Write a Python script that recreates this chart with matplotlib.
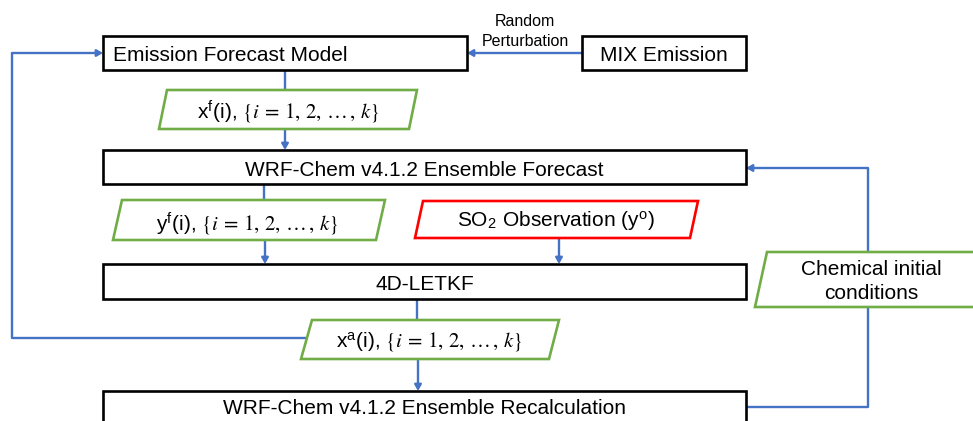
import matplotlib
matplotlib.use("Agg")
import matplotlib.pyplot as plt
from matplotlib.patches import Polygon, Rectangle

plt.rcParams['font.family'] = ['Liberation Sans', 'DejaVu Sans']
plt.rcParams['mathtext.fontset'] = 'stix'

BLUE = '#4472C4'
GREEN = '#70AD47'
RED = '#FF0000'

# labels of the flowchart
box_labels = ['Emission Forecast Model', 'MIX Emission',
              'WRF-Chem v4.1.2 Ensemble Forecast', '4D-LETKF',
              'WRF-Chem v4.1.2 Ensemble Recalculation']
ens = r'$\{i\,=\,1,\, 2,\, \ldots\,,\, k\}$'
para_labels = [[r'x$^\mathregular{f}$(i), ' + ens],
               [r'y$^\mathregular{f}$(i), ' + ens],
               [r'SO$_\mathregular{2}$ Observation (y$^\mathregular{o}$)'],
               [r'x$^\mathregular{a}$(i), ' + ens],
               ['Chemical initial', 'conditions']]
para_colors = [GREEN, GREEN, RED, GREEN, GREEN]
edge_label = ['Random', 'Perturbation']

# layout in pixels: (x0, y0, x1, y1), text x, text ha, baseline y
boxes = [(103, 36, 467, 70), (582, 36, 746, 70), (103, 150, 746, 184),
         (103, 264, 746, 299), (103, 391, 746, 440)]
box_text = [(113, 'left', 61), (664, 'center', 61), (424.5, 'center', 176),
            (424.5, 'center', 290.5), (424.5, 'center', 414.5)]
# parallelograms: top-left x, top-right x, bottom-left x, bottom-right x, top y, bottom y
paras = [(167, 417, 159, 409, 90, 129),
         (122, 385, 113, 376, 200, 240),
         (423, 698, 415, 690, 201, 238),
         (312, 559, 301, 549, 320, 359),
         (767, 990, 755, 980, 252, 307)]
para_text = [(288, [118]), (247, [230]), (556, [227]), (429, [347]),
             (871, [275, 299])]

fig = plt.figure(figsize=(9.73, 4.21), dpi=100)
ax = fig.add_axes([0, 0, 1, 1])
ax.set_xlim(0, 973)
ax.set_ylim(421, 0)
ax.set_axis_off()


def line(xs, ys):
    ax.plot(xs, ys, color=BLUE, lw=1.7, solid_capstyle='butt', zorder=1)


def arrow(x0, y0, x1, y1):
    ax.annotate('', xy=(x1, y1), xytext=(x0, y0),
                arrowprops=dict(arrowstyle='-|>,head_length=0.35,head_width=0.2',
                                color=BLUE, lw=1.7, shrinkA=0, shrinkB=0),
                zorder=1)


# connectors
arrow(582, 53, 467, 53)
line([285, 285], [70, 90])
arrow(285, 129, 285, 150)
line([264, 264], [184, 200])
arrow(265, 240, 265, 264)
arrow(559, 238, 559, 264)
line([417, 417], [299, 320])
arrow(418, 359, 418, 391)
line([306, 12, 12], [338, 338, 53])
arrow(12, 53, 103, 53)
line([746, 868, 868], [407, 407, 168])
arrow(868, 168, 746, 168)

for (x0, y0, x1, y1), lab, (tx, ha, ty) in zip(boxes, box_labels, box_text):
    ax.add_patch(Rectangle((x0, y0), x1 - x0, y1 - y0, fc='white', ec='black',
                           lw=1.9, zorder=2))
    ax.text(tx, ty, lab, ha=ha, va='baseline', fontsize=15, zorder=3)

for (tl, tr, bl, br, yt, yb), labs, col, (tx, tys) in zip(paras, para_labels,
                                                          para_colors, para_text):
    ax.add_patch(Polygon([(tl, yt), (tr, yt), (br, yb), (bl, yb)], closed=True,
                         fc='white', ec=col, lw=1.9, zorder=2))
    for lab, ty in zip(labs, tys):
        ax.text(tx, ty, lab, ha='center', va='baseline', fontsize=15, zorder=3)

for lab, ty in zip(edge_label, [26.5, 46]):
    ax.text(525, ty, lab, ha='center', va='baseline', fontsize=11.5)

fig.savefig('out.png', dpi=100)
